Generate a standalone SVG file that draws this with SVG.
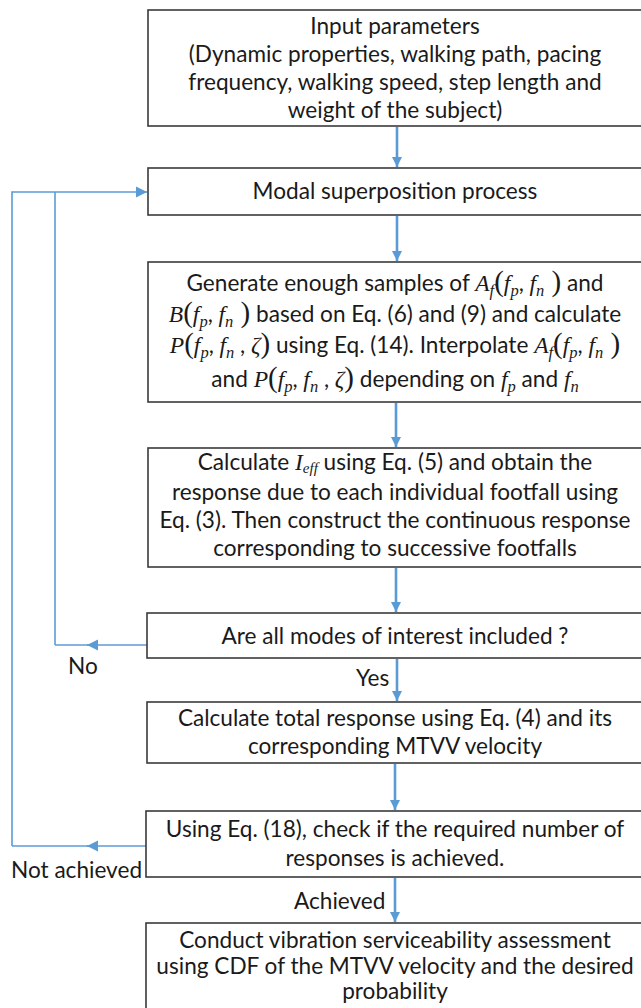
<svg xmlns="http://www.w3.org/2000/svg" width="641" height="1008" viewBox="0 0 641 1008">
<style>
.box{fill:#fff;stroke:#3a3a3a;stroke-width:1.6}
.t{font-family:Lato,"Liberation Sans",sans-serif;font-size:22.6px;fill:#1a1a1a;text-anchor:middle}
.l{font-family:Lato,"Liberation Sans",sans-serif;font-size:22.6px;fill:#1a1a1a}
.m{font-family:"Liberation Serif",serif;font-style:italic;font-size:23.5px}
.s{font-family:"Liberation Serif",serif;font-style:italic;font-size:16.5px}
.se{font-family:"Liberation Serif",serif;font-style:italic;font-size:15px}
.p{font-family:"Liberation Serif",serif;font-size:29px}
.main{stroke:#5B9BD5;stroke-width:2.6;fill:none}
.fb{stroke:#5B9BD5;stroke-width:1.6;fill:none}
</style>
<defs>
<marker id="ah" viewBox="0 0 10 10" refX="10" refY="5" markerWidth="4" markerHeight="4" orient="auto" markerUnits="strokeWidth"><path d="M0,0 L10,5 L0,10 z" fill="#5B9BD5"/></marker>
<marker id="ah2" viewBox="0 0 10 10" refX="10" refY="5" markerWidth="7" markerHeight="7" orient="auto" markerUnits="strokeWidth"><path d="M0,0 L10,5 L0,10 z" fill="#5B9BD5"/></marker>
</defs>
<g id="connectors">
<line class="main" x1="397" y1="127" x2="397" y2="167" marker-end="url(#ah)"/>
<line class="main" x1="397" y1="216" x2="397" y2="261" marker-end="url(#ah)"/>
<line class="main" x1="396" y1="403" x2="396" y2="447" marker-end="url(#ah)"/>
<line class="main" x1="396" y1="568" x2="396" y2="612" marker-end="url(#ah)"/>
<line class="main" x1="397" y1="659" x2="397" y2="701" marker-end="url(#ah)"/>
<line class="main" x1="395" y1="764" x2="395" y2="810" marker-end="url(#ah)"/>
<line class="main" x1="395" y1="878" x2="395" y2="922" marker-end="url(#ah)"/>
<polyline class="fb" points="12,846 12,192 147,192" marker-end="url(#ah2)"/>
<line class="fb" x1="55" y1="192" x2="55" y2="645"/>
<line class="fb" x1="147" y1="645" x2="87" y2="645" marker-end="url(#ah2)"/>
<line class="fb" x1="90" y1="645" x2="55" y2="645"/>
<line class="fb" x1="146" y1="846" x2="87" y2="846" marker-end="url(#ah2)"/>
<line class="fb" x1="90" y1="846" x2="12" y2="846"/>
<text class="l" x="68" y="674">No</text>
<text class="l" x="356" y="686">Yes</text>
<text class="l" x="11" y="878">Not achieved</text>
<text class="l" x="294" y="909">Achieved</text>
</g>
<g id="n1">
<rect class="box" x="148" y="10" width="500" height="116"/>
<text class="t" x="395" y="34">Input parameters</text>
<text class="t" x="395" y="62">(Dynamic properties, walking path, pacing</text>
<text class="t" x="395" y="90">frequency, walking speed, step length and</text>
<text class="t" x="395" y="118">weight of the subject)</text>
</g>
<g id="n2">
<rect class="box" x="148" y="168" width="500" height="47"/>
<text class="t" x="395" y="199">Modal superposition process</text>
</g>
<g id="n3">
<rect class="box" x="148" y="262" width="500" height="140"/>
<text class="t" x="395" y="291">Generate enough samples of <tspan class="m">A</tspan><tspan class="s" dy="5">f</tspan><tspan class="p" dy="-5">(</tspan><tspan class="m">f</tspan><tspan class="s" dy="5">p</tspan><tspan dy="-5">, </tspan><tspan class="m">f</tspan><tspan class="s" dy="5">n</tspan><tspan class="p" dy="-5"> )</tspan> and</text>
<text class="t" x="395" y="322"><tspan class="m">B</tspan><tspan class="p">(</tspan><tspan class="m">f</tspan><tspan class="s" dy="5">p</tspan><tspan dy="-5">, </tspan><tspan class="m">f</tspan><tspan class="s" dy="5">n</tspan><tspan class="p" dy="-5"> )</tspan> based on Eq. (6) and (9) and calculate</text>
<text class="t" x="395" y="353"><tspan class="m">P</tspan><tspan class="p">(</tspan><tspan class="m">f</tspan><tspan class="s" dy="5">p</tspan><tspan dy="-5">, </tspan><tspan class="m">f</tspan><tspan class="s" dy="5">n</tspan><tspan dy="-5"> , </tspan><tspan class="m">ζ</tspan><tspan class="p">)</tspan> using Eq. (14). Interpolate <tspan class="m">A</tspan><tspan class="s" dy="5">f</tspan><tspan class="p" dy="-5">(</tspan><tspan class="m">f</tspan><tspan class="s" dy="5">p</tspan><tspan dy="-5">, </tspan><tspan class="m">f</tspan><tspan class="s" dy="5">n</tspan><tspan class="p" dy="-5"> )</tspan></text>
<text class="t" x="395" y="387">and <tspan class="m">P</tspan><tspan class="p">(</tspan><tspan class="m">f</tspan><tspan class="s" dy="5">p</tspan><tspan dy="-5">, </tspan><tspan class="m">f</tspan><tspan class="s" dy="5">n</tspan><tspan dy="-5"> , </tspan><tspan class="m">ζ</tspan><tspan class="p">)</tspan> depending on <tspan class="m">f</tspan><tspan class="s" dy="5">p</tspan><tspan dy="-5"> and </tspan><tspan class="m">f</tspan><tspan class="s" dy="5">n</tspan></text>
</g>
<g id="n4">
<rect class="box" x="148" y="448" width="500" height="119"/>
<text class="t" x="395" y="470">Calculate <tspan class="m">I</tspan><tspan class="se" dy="3">eff</tspan><tspan dy="-3"> using Eq. (5) and obtain the</tspan></text>
<text class="t" x="395" y="500">response due to each individual footfall using</text>
<text class="t" x="395" y="528">Eq. (3). Then construct the continuous response</text>
<text class="t" x="395" y="556">corresponding to successive footfalls</text>
</g>
<g id="n5">
<rect class="box" x="147" y="613" width="500" height="45"/>
<text class="t" x="395" y="644">Are all modes of interest included ?</text>
</g>
<g id="n6">
<rect class="box" x="147" y="702" width="500" height="61"/>
<text class="t" x="395" y="726">Calculate total response using Eq. (4) and its</text>
<text class="t" x="395" y="754">corresponding MTVV velocity</text>
</g>
<g id="n7">
<rect class="box" x="146" y="811" width="500" height="66"/>
<text class="t" x="395" y="837">Using Eq. (18), check if the required number of</text>
<text class="t" x="395" y="866">responses is achieved.</text>
</g>
<g id="n8">
<rect class="box" x="146" y="923" width="500" height="100"/>
<text class="t" x="395" y="948">Conduct vibration serviceability assessment</text>
<text class="t" x="395" y="974">using CDF of the MTVV velocity and the desired</text>
<text class="t" x="395" y="999">probability</text>
</g>
</svg>
